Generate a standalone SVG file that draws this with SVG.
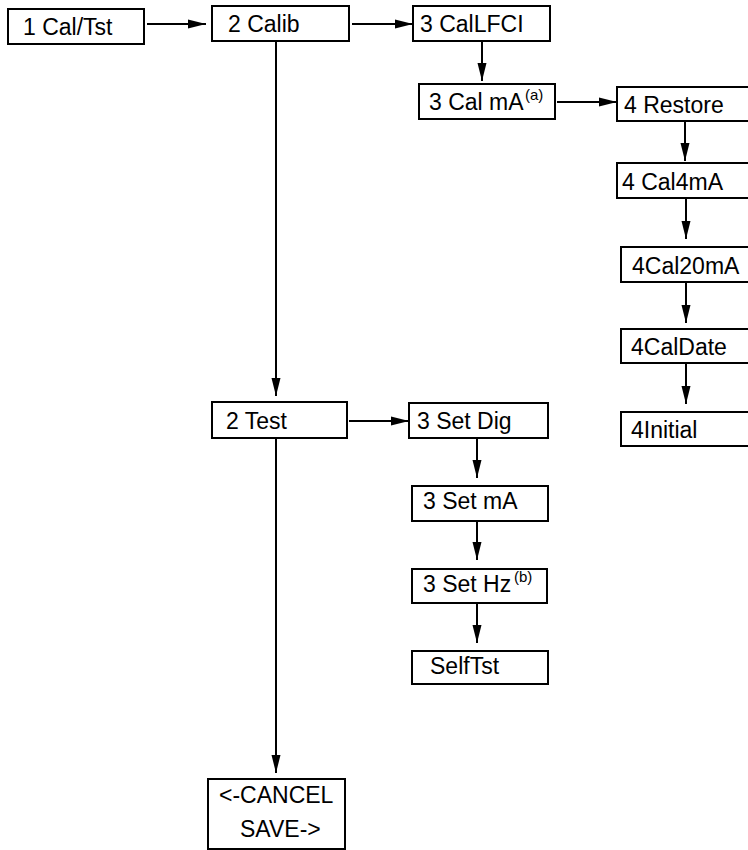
<svg xmlns="http://www.w3.org/2000/svg" width="748" height="850" viewBox="0 0 748 850">
<defs>
<marker id="ah" markerUnits="userSpaceOnUse" markerWidth="18" markerHeight="10" refX="18" refY="5" orient="auto">
<path d="M0,0.5 L18,5 L0,9.5 z" fill="#000"/>
</marker>
<style>
.box{fill:#fff;stroke:#000;stroke-width:2}
.t{font-family:"Liberation Sans",Arial,sans-serif;font-size:23px;fill:#000}
.sup{font-family:"Liberation Sans",Arial,sans-serif;font-size:15px;fill:#000}
.c{fill:none;stroke:#000;stroke-width:2;marker-end:url(#ah)}
</style>
</defs>
<rect width="748" height="850" fill="#fff"/>
<g id="connectors">
<line class="c" x1="147" y1="24" x2="206" y2="24"/>
<line class="c" x1="352" y1="24" x2="413" y2="24"/>
<line class="c" x1="276" y1="41" x2="276" y2="396"/>
<line class="c" x1="482" y1="41" x2="482" y2="81"/>
<line class="c" x1="557" y1="102" x2="617" y2="102"/>
<line class="c" x1="685" y1="121" x2="685" y2="161"/>
<line class="c" x1="686" y1="198" x2="686" y2="239"/>
<line class="c" x1="686" y1="282" x2="686" y2="323"/>
<line class="c" x1="686" y1="363" x2="686" y2="404"/>
<line class="c" x1="349" y1="421" x2="409" y2="421"/>
<line class="c" x1="477" y1="438" x2="477" y2="478"/>
<line class="c" x1="477" y1="521" x2="477" y2="560"/>
<line class="c" x1="477" y1="603" x2="477" y2="643"/>
<line class="c" x1="276" y1="438" x2="276" y2="773"/>
</g>
<g id="n1"><rect class="box" x="8" y="9" width="136" height="35"/><text class="t" x="23" y="35">1 Cal/Tst</text></g>
<g id="n2"><rect class="box" x="212" y="6" width="137" height="35"/><text class="t" x="228" y="32">2 Calib</text></g>
<g id="n3"><rect class="box" x="413" y="6" width="137" height="35"/><text class="t" x="420" y="32">3 CalLFCI</text></g>
<g id="n4"><rect class="box" x="419" y="84" width="136" height="35"/><text class="t" x="429" y="110">3 Cal mA</text><text class="sup" x="525" y="100">(a)</text></g>
<g id="n5"><rect class="box" x="617" y="87" width="140" height="34"/><text class="t" x="624" y="113">4 Restore</text></g>
<g id="n6"><rect class="box" x="617" y="163" width="140" height="35"/><text class="t" x="622" y="190">4 Cal4mA</text></g>
<g id="n7"><rect class="box" x="621" y="247" width="136" height="35"/><text class="t" x="632" y="274">4Cal20mA</text></g>
<g id="n8"><rect class="box" x="621" y="329" width="136" height="34"/><text class="t" x="631" y="355">4CalDate</text></g>
<g id="n9"><rect class="box" x="621" y="412" width="136" height="34"/><text class="t" x="631" y="438">4Initial</text></g>
<g id="n10"><rect class="box" x="212" y="402" width="135" height="36"/><text class="t" x="226" y="429">2 Test</text></g>
<g id="n11"><rect class="box" x="409" y="403" width="139" height="35"/><text class="t" x="417" y="429">3 Set Dig</text></g>
<g id="n12"><rect class="box" x="412" y="486" width="136" height="35"/><text class="t" x="423" y="509">3 Set mA</text></g>
<g id="n13"><rect class="box" x="412" y="569" width="135" height="34"/><text class="t" x="423" y="592">3 Set Hz</text><text class="sup" x="514" y="582">(b)</text></g>
<g id="n14"><rect class="box" x="412" y="651" width="136" height="33"/><text class="t" x="430" y="674">SelfTst</text></g>
<g id="n15"><rect class="box" x="208" y="779" width="137" height="70"/><text class="t" x="219" y="803">&lt;-CANCEL</text><text class="t" x="240" y="837">SAVE-&gt;</text></g>
</svg>
